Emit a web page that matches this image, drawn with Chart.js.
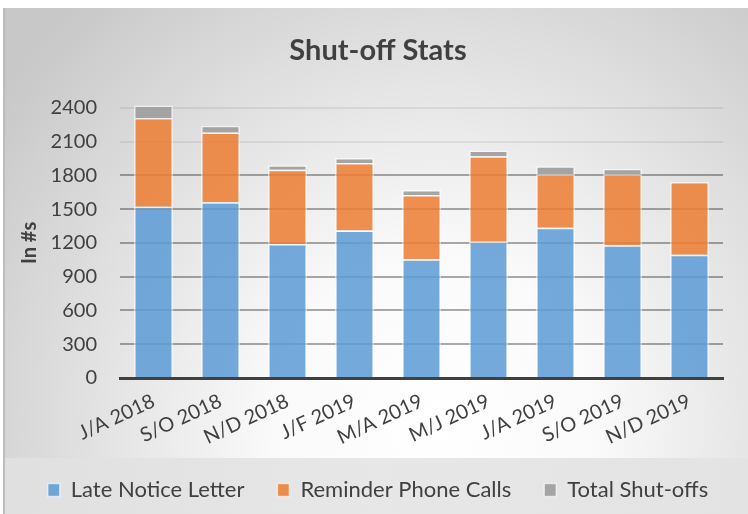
<!DOCTYPE html>
<html>
<head>
<meta charset="utf-8">
<script src="https://cdn.jsdelivr.net/npm/chart.js@4/dist/chart.umd.min.js"></script>
<style>
	html, body { margin: 0; padding: 0; background: #fff; }
	.wrap { position: relative; width: 748px; height: 514px; overflow: hidden; }
	.bg {
		position: absolute; left: 3px; top: 8px; right: 0; bottom: 56px;
		border-left: 2px solid #bcbcbc;
		background: radial-gradient(ellipse 72% 125% at 58% 92%, #ffffff 0%, #fafafa 30%, #dfdfdf 68%, #c8c8c8 100%);
	}
	.band {
		position: absolute; left: 3px; top: 458px; right: 0; bottom: 0;
		border-left: 2px solid #bcbcbc;
		background: linear-gradient(90deg, #e0e0e0, #e7e7e7 50%, #e3e3e3);
	}
	canvas { position: absolute; left: 0; top: 0; }
</style>
</head>
<body>
<div class="wrap">
	<div class="bg"></div>
	<div class="band"></div>
	<canvas id="myChart" width="748" height="514"></canvas>
</div>
<script>
const periods = ["J/A 2018", "S/O 2018", "N/D 2018", "J/F 2019", "M/A 2019", "M/J 2019", "J/A 2019", "S/O 2019", "N/D 2019"];
const lateNotice = [1520, 1560, 1190, 1310, 1055, 1210, 1335, 1180, 1095];
const phoneCalls = [790, 620, 660, 600, 570, 760, 475, 630, 645];
const shutOffs = [110, 60, 40, 45, 45, 50, 70, 48, 0];
const yTicks = [0, 300, 600, 900, 1200, 1500, 1800, 2100, 2400];

window.addEventListener(
	"load",
	function () {
		const font = "Lato, 'Open Sans', sans-serif";
		const text = "#404040";

		const data = {
			labels: periods,
			datasets: [
				{
					label: "Late Notice Letter",
					data: lateNotice,
					backgroundColor: "rgba(91, 155, 213, 0.85)",
				},
				{
					label: "Reminder Phone Calls",
					data: phoneCalls,
					backgroundColor: "rgba(237, 125, 49, 0.85)",
				},
				{
					label: "Total Shut-offs",
					data: shutOffs,
					backgroundColor: "rgba(160, 160, 160, 0.95)",
				},
			],
		};

		const config = {
			type: "bar",
			data: data,
			options: {
				responsive: false,
				animation: false,
				layout: {
					padding: { left: 8, right: 0, top: 0, bottom: 3 },
				},
				datasets: {
					bar: {
						clip: false,
						borderWidth: 1.5,
						borderColor: "rgba(255, 255, 255, 0.6)",
						categoryPercentage: 1,
						barPercentage: 0.58,
					},
				},
				scales: {
					x: {
						stacked: true,
						grid: { display: false },
						border: { display: true, color: "#404040", width: 3 },
						ticks: {
							color: text,
							font: { family: font, size: 20 },
							minRotation: 25,
							maxRotation: 25,
							padding: 3,
						},
						afterFit: function (scale) {
							scale.height = 68;
							scale.paddingRight = 25;
						},
					},
					y: {
						stacked: true,
						min: 0,
						max: 2400,
						afterBuildTicks: function (scale) {
							scale.ticks = yTicks.map((v) => ({ value: v }));
						},
						grid: {
							drawTicks: false,
							lineWidth: 2,
							color: (ctx) => (ctx.tick && ctx.tick.value >= 2100 ? "rgba(0, 0, 0, 0.07)" : "rgba(0, 0, 0, 0.33)"),
						},
						border: { display: false },
						ticks: {
							color: text,
							font: { family: font, size: 20 },
							padding: 23,
							callback: (v) => String(v),
						},
						title: {
							display: true,
							text: "In #s",
							color: text,
							font: { family: font, size: 20, weight: "bold" },
							padding: { top: 10, bottom: 0 },
						},
						afterFit: function (scale) {
							scale.width = 112;
						},
					},
				},
				plugins: {
					title: {
						display: true,
						text: "Shut-off Stats",
						color: text,
						font: { family: font, size: 29, weight: "bold" },
						padding: { top: 33, bottom: 40 },
					},
					legend: {
						position: "bottom",
						labels: {
							color: text,
							font: { family: font, size: 22 },
							boxWidth: 12,
							boxHeight: 13,
							padding: 33,
						},
					},
					tooltip: { enabled: false },
				},
			},
		};

		//load
		const myChart = new Chart(document.getElementById("myChart"), config);
	},
	false
);
</script>
</body>
</html>
